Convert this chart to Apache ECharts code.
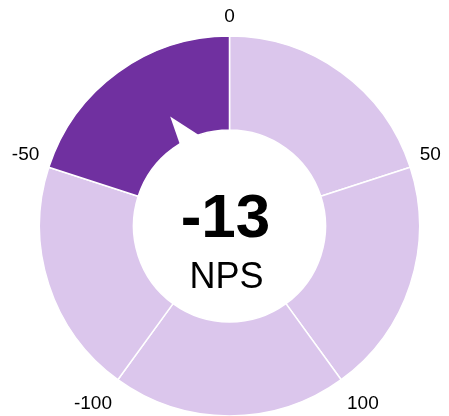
<!DOCTYPE html>
<html>
<head>
<meta charset="utf-8">
<script src="https://cdn.jsdelivr.net/npm/echarts@6/dist/echarts.min.js"></script>
<style>
  html, body { margin: 0; padding: 0; background: #ffffff; }
  #chart { width: 449px; height: 416px; }
</style>
</head>
<body>
<div id="chart"></div>
<script>
// Net Promoter Score dial
const scoreName = 'NPS';
const scoreValue = [-13];

// Ring arcs, clockwise from the top; the bottom arc is the gap between 100 and -100
const bandFrom = [0, 50, null, -100, -50];
const bandTo = [50, 100, null, -50, 0];
const bandSize = [1, 1, 1, 1, 1];

// Scale labels around the dial
const tickLabels = [-100, -50, 0, 50, 100];
const tickStep = 50;

const lightColor = '#dbc6ec';
const darkColor = '#7030a0';
const font = '"Liberation Sans", Arial, sans-serif';
const cx = 229.5, cy = 226;

const score = scoreValue[0];
const ringData = bandSize.map((v, i) => {
  const hit = bandFrom[i] !== null && score >= bandFrom[i] && score <= bandTo[i];
  return { value: v, itemStyle: { color: hit ? darkColor : lightColor } };
});

const scaleMin = tickLabels[0];
const scaleMax = tickLabels[tickLabels.length - 1];
// the scale covers four of the five arcs, so the full turn is one step longer
const turnMax = scaleMax + tickStep;

const chart = echarts.init(document.getElementById('chart'));
chart.setOption({
  animation: false,
  backgroundColor: '#ffffff',
  polar: { center: [cx, cy], radius: [0, 190] },
  angleAxis: {
    type: 'value',
    min: scaleMin,
    max: turnMax,
    interval: tickStep,
    startAngle: 234,
    clockwise: true,
    axisLine: { show: false },
    axisTick: { show: false },
    splitLine: { show: false },
    axisLabel: {
      show: true,
      margin: 10,
      fontSize: 19,
      fontFamily: font,
      color: '#000',
      formatter: v => {
        if (tickLabels.indexOf(v) < 0) return '';
        // the two end labels hang a little lower below the ring
        return Math.abs(v) === scaleMax ? '{end|' + v + '}' : String(v);
      },
      rich: {
        end: { fontSize: 19, fontFamily: font, color: '#000', padding: [6, 0, 0, 0] }
      }
    }
  },
  radiusAxis: { show: false, min: 0, max: 1 },
  series: [
    {
      type: 'pie',
      z: 1,
      center: [cx, cy],
      radius: [96, 190],
      startAngle: 90,
      clockwise: true,
      silent: true,
      label: { show: false },
      labelLine: { show: false },
      itemStyle: { borderColor: '#ffffff', borderWidth: 1.5 },
      emphasis: { disabled: true },
      data: ringData
    },
    {
      // notch marking the score on the inner edge of the ring
      type: 'gauge',
      z: 5,
      center: [cx, cy],
      radius: 190,
      startAngle: 270,
      endAngle: -90,
      min: scaleMin,
      max: scaleMax,
      silent: true,
      axisLine: { show: false, lineStyle: { width: 0 } },
      axisTick: { show: false },
      splitLine: { show: false },
      axisLabel: { show: false },
      anchor: { show: false },
      title: { show: false },
      detail: { show: false },
      pointer: {
        show: true,
        icon: 'path://M9,0 L92,124 L0,124 Z',
        length: 124,
        width: 92,
        offsetCenter: [26, 0],
        itemStyle: { color: '#ffffff' }
      },
      data: [{ value: score }]
    },
    {
      // the score in the middle
      type: 'gauge',
      z: 6,
      center: [cx, cy],
      radius: 190,
      min: scaleMin,
      max: scaleMax,
      silent: true,
      axisLine: { show: false, lineStyle: { width: 0 } },
      axisTick: { show: false },
      splitLine: { show: false },
      axisLabel: { show: false },
      pointer: { show: false },
      anchor: { show: false },
      title: {
        show: true,
        offsetCenter: [-3, 52],
        fontSize: 36,
        fontFamily: font,
        color: '#000'
      },
      detail: {
        show: true,
        offsetCenter: [-4, -6],
        fontSize: 62,
        fontWeight: 'bold',
        fontFamily: font,
        color: '#000',
        formatter: v => String(v)
      },
      data: [{ value: score, name: scoreName }]
    }
  ]
});
</script>
</body>
</html>
